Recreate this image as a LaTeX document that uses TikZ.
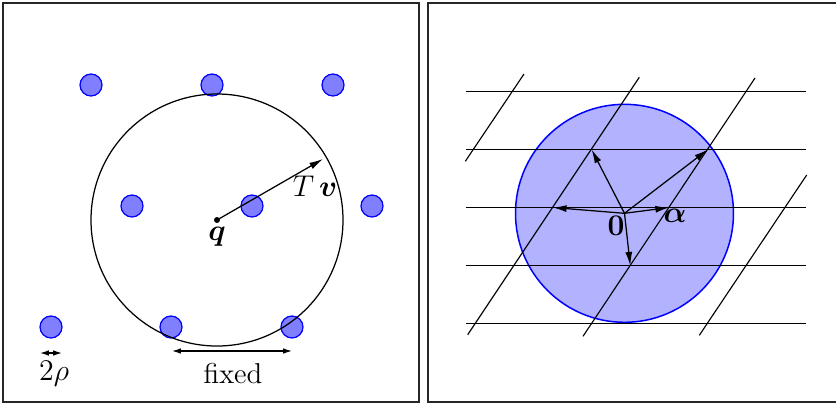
\documentclass[tikz,border=0pt]{standalone}
\usepackage{amsmath,amssymb}
\usepackage{xcolor}
\usepackage{tikz}
\usetikzlibrary{arrows.meta,positioning}
\definecolor{ballblue}{HTML}{0000FF}

\begin{document}
\begin{tikzpicture}[x=0.4pt,y=-0.4pt,font=\fontsize{11.5}{14}\selectfont,
frame/.style={draw=black!85,line width=0.5pt},
ball/.style={draw=ballblue,fill=ballblue,fill opacity=0.5,line width=0.5pt},
disk/.style={draw=ballblue,fill=ballblue,fill opacity=0.3,line width=0.6pt},
grid/.style={draw=black,line width=0.45pt},
vec/.style={-{Latex[length=5.5pt,width=2.8pt]},line width=0.5pt},
dim/.style={{Latex[length=3.5pt,width=2.2pt]}-{Latex[length=3.5pt,width=2.2pt]},line width=0.5pt}]
\useasboundingbox (0,0) rectangle (836,403);
% left panel
\draw[frame] (3,3) rectangle (419,402);
\foreach \x/\y in {91/85,212/85,333/85,132/206,252/206,372/206,51/327,171/327,292/327}
  \path[ball] (\x,\y) circle[radius=11];
\coordinate (q) at (217,220);
\draw[line width=0.5pt] (q) circle[radius=126];
\fill (q) circle[radius=3];
\node[below=1.5pt of q,inner sep=1pt] (qlab) {$\boldsymbol{q}$};
\coordinate (tip) at (323,159);
\draw[vec] (q) -- (tip);
\node (Tv) at (315,186) {$T\,\boldsymbol{v}$};
\coordinate (fl) at (172,351);
\coordinate (fr) at (292,351);
\draw[dim] (fl) -- (fr);
\node (fixed) at (233,374) {fixed};
\coordinate (rl) at (40,353);
\coordinate (rr) at (62,353);
\draw[dim] (rl) -- (rr);
\node (rho) at (54,374) {$2\rho$};
% right panel
\draw[frame] (840,3) -- (428,3) -- (428,402) -- (840,402);
\coordinate (O) at (624.5,213.3);
\path[disk] (O) circle[radius=109];
\foreach \y in {91.3,149.5,207.5,265.7,323.7}
  \draw[grid] (466,\y) -- (806,\y);
\draw[grid] (524,74) -- (465.3,161.3);
\draw[grid] (639.3,77.3) -- (467.7,334.7);
\draw[grid] (755,78) -- (583,336.3);
\draw[grid] (806.7,175) -- (699.3,335.3);
\coordinate (p1) at (591.6,149.5);
\coordinate (p2) at (707.9,149.5);
\coordinate (p3) at (552.8,207.5);
\coordinate (p4) at (669.1,207.5);
\coordinate (p5) at (630.3,265.7);
\foreach \p in {p1,p2,p3,p4,p5}
  \draw[vec] (O) -- (\p);
\node (zero) at (616,226) {$\mathbf{0}$};
\node (alpha) at (675,216) {$\boldsymbol{\alpha}$};
\end{tikzpicture}
\end{document}
